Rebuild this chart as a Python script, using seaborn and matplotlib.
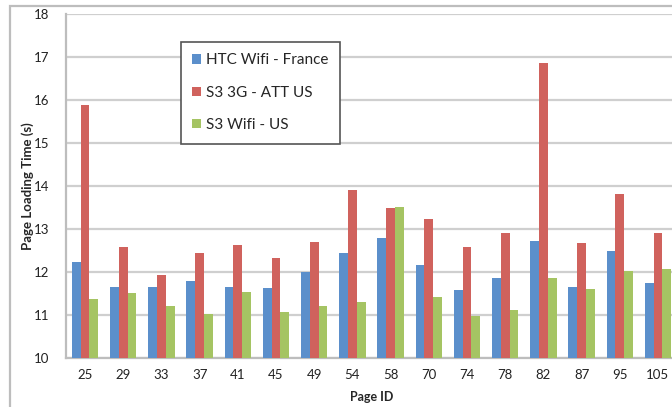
import matplotlib
matplotlib.use("Agg")
import matplotlib.pyplot as plt
from matplotlib.patches import Rectangle
import seaborn as sns
import pandas as pd

# Page IDs and mean page loading times (seconds) per device/network
page_ids = ["25", "29", "33", "37", "41", "45", "49", "54", "58", "70",
            "74", "78", "82", "87", "95", "105"]
htc_wifi_france = [12.23, 11.65, 11.65, 11.78, 11.65, 11.62, 11.99, 12.45,
                   12.78, 12.17, 11.57, 11.87, 12.72, 11.65, 12.48, 11.75]
s3_3g_att_us = [15.88, 12.57, 11.93, 12.45, 12.63, 12.33, 12.69, 13.91,
                13.48, 13.24, 12.57, 12.90, 16.85, 12.67, 13.82, 12.90]
s3_wifi_us = [11.38, 11.51, 11.20, 11.02, 11.54, 11.08, 11.20, 11.30,
              13.51, 11.41, 10.97, 11.11, 11.87, 11.60, 12.03, 12.08]
series_names = ["HTC Wifi - France", "S3 3G - ATT US", "S3 Wifi - US"]
series_colors = ["#5B8FCB", "#D0625D", "#A5C463"]

frames = []
for name, vals in zip(series_names, [htc_wifi_france, s3_3g_att_us, s3_wifi_us]):
    frames.append(pd.DataFrame({"page": page_ids, "time": vals, "series": name}))
df = pd.concat(frames, ignore_index=True)

sns.set_style("white")
plt.rcParams["font.family"] = ["Lato", "DejaVu Sans"]

W, H = 672, 407
fig = plt.figure(figsize=(W / 100, H / 100), dpi=100)

# outer chart frame
fig.patches.append(Rectangle((10 / W, -0.1), 1.2, (H - 6) / H + 0.1,
                             transform=fig.transFigure, fill=False,
                             edgecolor="#BDBDBD", linewidth=1.6, zorder=0))

left, right, top, bottom = 66, 677, 14, 358
ax = fig.add_axes([left / W, (H - bottom) / H, (right - left) / W, (bottom - top) / H])

ymin = 10
sns.barplot(data=df, x="page", y="time", hue="series", order=page_ids,
            hue_order=series_names, palette=series_colors, width=0.69,
            saturation=1, ax=ax, zorder=3)
for p in ax.patches:
    h = p.get_height()
    p.set_y(ymin)
    p.set_height(h - ymin)
    p.set_edgecolor("none")

ax.set_ylim(10, 18)
ax.set_xlim(-0.5, len(page_ids) - 0.5)
ax.set_yticks(range(10, 19))
ax.yaxis.grid(True, color="#CFCFCF", linewidth=1.6, zorder=0)
ax.set_axisbelow(True)

for side in ["top", "right"]:
    ax.spines[side].set_visible(False)
for side in ["left", "bottom"]:
    ax.spines[side].set_color("#BDBDBD")
    ax.spines[side].set_linewidth(1.6)

ax.set_xticks([i - 0.5 for i in range(len(page_ids) + 1)], minor=True)
ax.tick_params(axis="x", which="major", length=0, pad=8, labelsize=9.5, colors="#222222")
ax.tick_params(axis="x", which="minor", length=5, width=1.2, color="#BDBDBD")
ax.tick_params(axis="y", which="major", length=6, width=1.2, color="#BDBDBD",
               labelsize=9.5, labelcolor="#222222", pad=6)

ax.set_xlabel("Page ID", fontsize=9, fontweight="bold")
ax.set_ylabel("Page Loading Time (s)", fontsize=9.5, fontweight="bold")
ax.xaxis.set_label_coords(0.5, -(391 - bottom) / (bottom - top))
ax.yaxis.set_label_coords(-(left - 34) / (right - left), 0.5)

leg = ax.legend(loc="upper left", bbox_to_anchor=((181 - left) / (right - left), (bottom - 42) / (bottom - top)),
                frameon=True, fancybox=False, fontsize=11, handlelength=0.55,
                handleheight=0.55, handletextpad=0.35, labelspacing=1.2,
                borderpad=0.75, borderaxespad=0)
leg.get_frame().set_edgecolor("#555555")
leg.get_frame().set_linewidth(1.2)
leg.get_frame().set_alpha(1)

fig.savefig("out.png", dpi=100)
